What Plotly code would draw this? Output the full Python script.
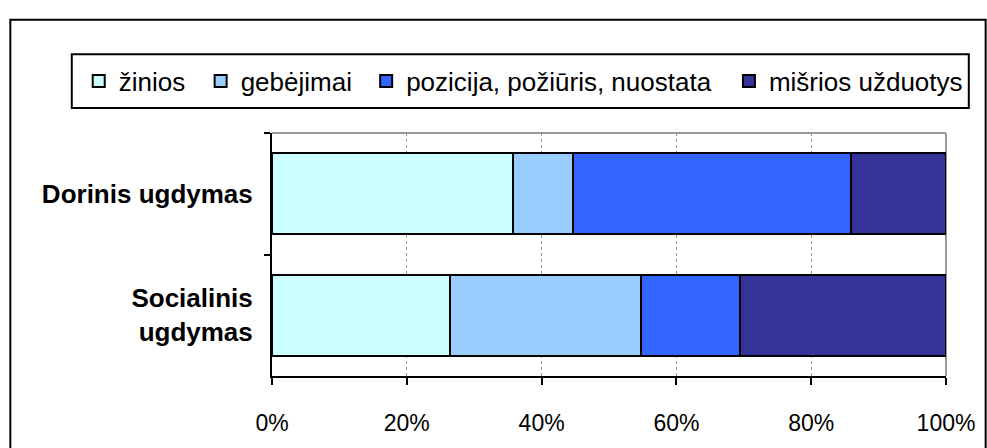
import plotly.graph_objects as go

categories = ["Dorinis ugdymas", "Socialinis<br>ugdymas"]
series_names = ["žinios", "gebėjimai", "pozicija, požiūris, nuostata", "mišrios užduotys"]
zinios = [0.358, 0.264]
gebejimai = [0.089, 0.283]
pozicija = [0.412, 0.147]
misrios = [0.141, 0.306]
colors = ["#CCFFFF", "#99CCFF", "#3366FF", "#333399"]
x_tickvals = [0, 0.2, 0.4, 0.6, 0.8, 1.0]
x_ticktext = ["0%", "20%", "40%", "60%", "80%", "100%"]

FONT = "Arial, Liberation Sans, sans-serif"

L, R, T, B = 272, 35, 133, 62
W, H = 987, 448
pw, ph = W - L - R, H - T - B

def px(x):
    return (x - L) / pw

def py(y):
    return (H - B - y) / ph

legend_ids = ["legend", "legend2", "legend3", "legend4"]
legend_left_px = [77, 200, 367, 733]

fig = go.Figure()
for name, vals, col, lg in zip(series_names, [zinios, gebejimai, pozicija, misrios], colors, legend_ids):
    fig.add_trace(go.Bar(
        y=categories, x=vals, name=name, orientation="h", legend=lg,
        marker=dict(color=col, line=dict(color="black", width=2)),
    ))

legend_layouts = {}
for lg, lx in zip(legend_ids, legend_left_px):
    legend_layouts[lg] = dict(
        orientation="h", x=px(lx), y=py(79), xanchor="left", yanchor="middle",
        borderwidth=0, bgcolor="rgba(0,0,0,0)",
        font=dict(family=FONT, size=26, color="black"),
    )

fig.update_layout(
    width=W, height=H,
    margin=dict(l=L, r=R, t=T, b=B),
    barmode="stack", bargap=0.33,
    plot_bgcolor="white", paper_bgcolor="white",
    font=dict(family=FONT, color="black", size=22),
    showlegend=True,
    **legend_layouts,
    xaxis=dict(
        range=[0, 1], tickvals=x_tickvals, ticktext=x_ticktext,
        showgrid=True, gridcolor="#999999", griddash="dot", gridwidth=1,
        showline=True, linecolor="black", linewidth=2,
        ticks="outside", ticklen=7, tickwidth=2, tickcolor="black",
        tickfont=dict(family=FONT, size=23, color="black"),
        ticklabelstandoff=18, zeroline=False,
    ),
    yaxis=dict(
        categoryorder="array", categoryarray=categories, autorange="reversed",
        showline=True, linecolor="black", linewidth=2,
        ticks="outside", ticklen=6, tickwidth=2, tickcolor="black",
        tickson="boundaries", showgrid=False,
        tickfont=dict(family=FONT, size=26, color="black", weight="bold"),
        ticklabelstandoff=12,
    ),
    shapes=[
        dict(type="line", xref="paper", yref="paper", x0=0, x1=1, y0=1, y1=1,
             line=dict(color="#999999", width=2), layer="above"),
        dict(type="line", xref="paper", yref="paper", x0=1, x1=1, y0=0, y1=1,
             line=dict(color="#999999", width=2), layer="below"),
        dict(type="rect", xref="paper", yref="paper",
             x0=px(8), x1=px(992), y0=py(15), y1=py(470),
             line=dict(color="black", width=2), fillcolor="rgba(0,0,0,0)"),
        dict(type="rect", xref="paper", yref="paper",
             x0=px(70), x1=px(975), y0=py(51), y1=py(107),
             line=dict(color="black", width=2), fillcolor="rgba(0,0,0,0)"),
    ],
)

fig.write_html(
    "out.html",
    config={"displayModeBar": False},
    post_script="document.body.style.margin='0';document.body.style.overflow='hidden';",
)
